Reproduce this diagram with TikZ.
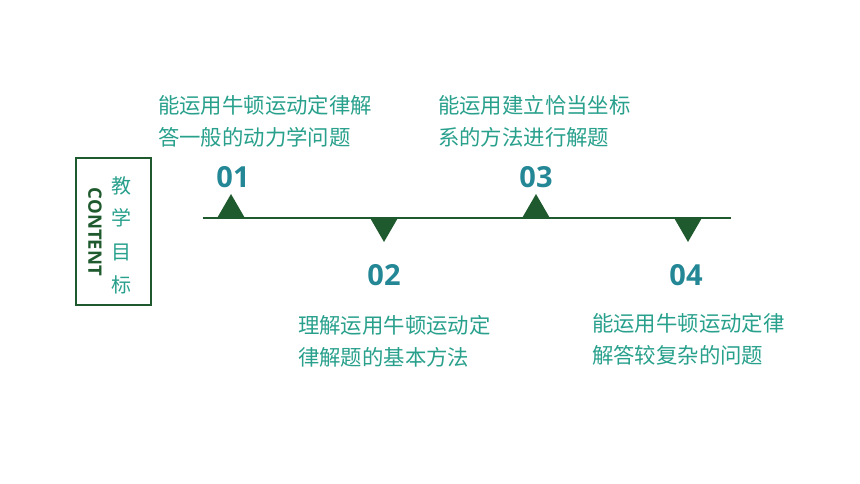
\documentclass[tikz,border=0pt]{standalone}
\usepackage{fontspec}
\setmainfont{Open Sans}
\newfontfamily\cjk{Noto Sans CJK SC}
\usetikzlibrary{positioning, shapes.geometric}

\definecolor{darkgreen}{RGB}{30,90,45}
\definecolor{textteal}{RGB}{40,160,140}
\definecolor{numteal}{RGB}{35,135,150}

\begin{document}
\begin{tikzpicture}
[
    x=1pt, y=-1pt, inner sep=0pt, outer sep=0pt,
    % The timeline runs along y=218, marks alternate up/down
    % Marks are named M-1 ... M-4, numbers L-1 ... L-4, texts T-1 ... T-4
]

%=================================== Start ===================================
\tikzstyle{up}   = [isosceles triangle, isosceles triangle apex angle=60, shape border rotate=90,
                    fill=darkgreen, minimum height=24pt, anchor=south]
\tikzstyle{down} = [isosceles triangle, isosceles triangle apex angle=60, shape border rotate=-90,
                    fill=darkgreen, minimum height=24pt, anchor=north]
\tikzstyle{num}  = [text=numteal, font=\fontsize{29}{29}\selectfont\bfseries]
\tikzstyle{txt}  = [text=textteal, align=left, anchor=west,
                    font=\cjk\fontsize{21.4}{32}\selectfont]

\useasboundingbox (0,0) rectangle (860,484);
{
    % Draw the title box
    \node[draw=darkgreen, line width=1.6pt, minimum width=75pt, minimum height=147pt]
          (box) at (113.5,231.5) {};
    \node[rotate=-90, text=darkgreen, font=\fontsize{18.5}{18.5}\selectfont\bfseries]
          (content) at (95,232) {CONTENT};
    \foreach \y / \c [count=\i] in {186/教, 218/学, 252/目, 285/标}
        \node[text=textteal, font=\cjk\fontsize{20}{20}\selectfont]
              (title-\i) at (121,\y) {\c};

    % Draw the timeline
    \coordinate (line-start) at (203,218);
    \coordinate (line-end)   at (731,218);
    \draw[darkgreen, line width=1.4pt] (line-start) -- (line-end);

    % Draw the marks
    \foreach \x / \s [count=\i] in {231/up, 384/down, 536/up, 688/down}
        \node[\s] (M-\i) at (\x,218) {};

    % Draw the numbers
    \node[num, above=6pt of M-1.apex, xshift=2pt] (L-1) {01};
    \node[num, below=22pt of M-2.apex] (L-2) {02};
    \node[num, above=6pt of M-3.apex] (L-3) {03};
    \node[num, below=22pt of M-4.apex, xshift=-2pt] (L-4) {04};

    % Draw the texts
    \node[txt] (T-1) at (158,121) {能运用牛顿运动定律解\\答一般的动力学问题};
    \node[txt] (T-2) at (298,341) {理解运用牛顿运动定\\律解题的基本方法};
    \node[txt] (T-3) at (438,121) {能运用建立恰当坐标\\系的方法进行解题};
    \node[txt] (T-4) at (592,339) {能运用牛顿运动定律\\解答较复杂的问题};
}
%==================================== END ====================================

\end{tikzpicture}
\end{document}
